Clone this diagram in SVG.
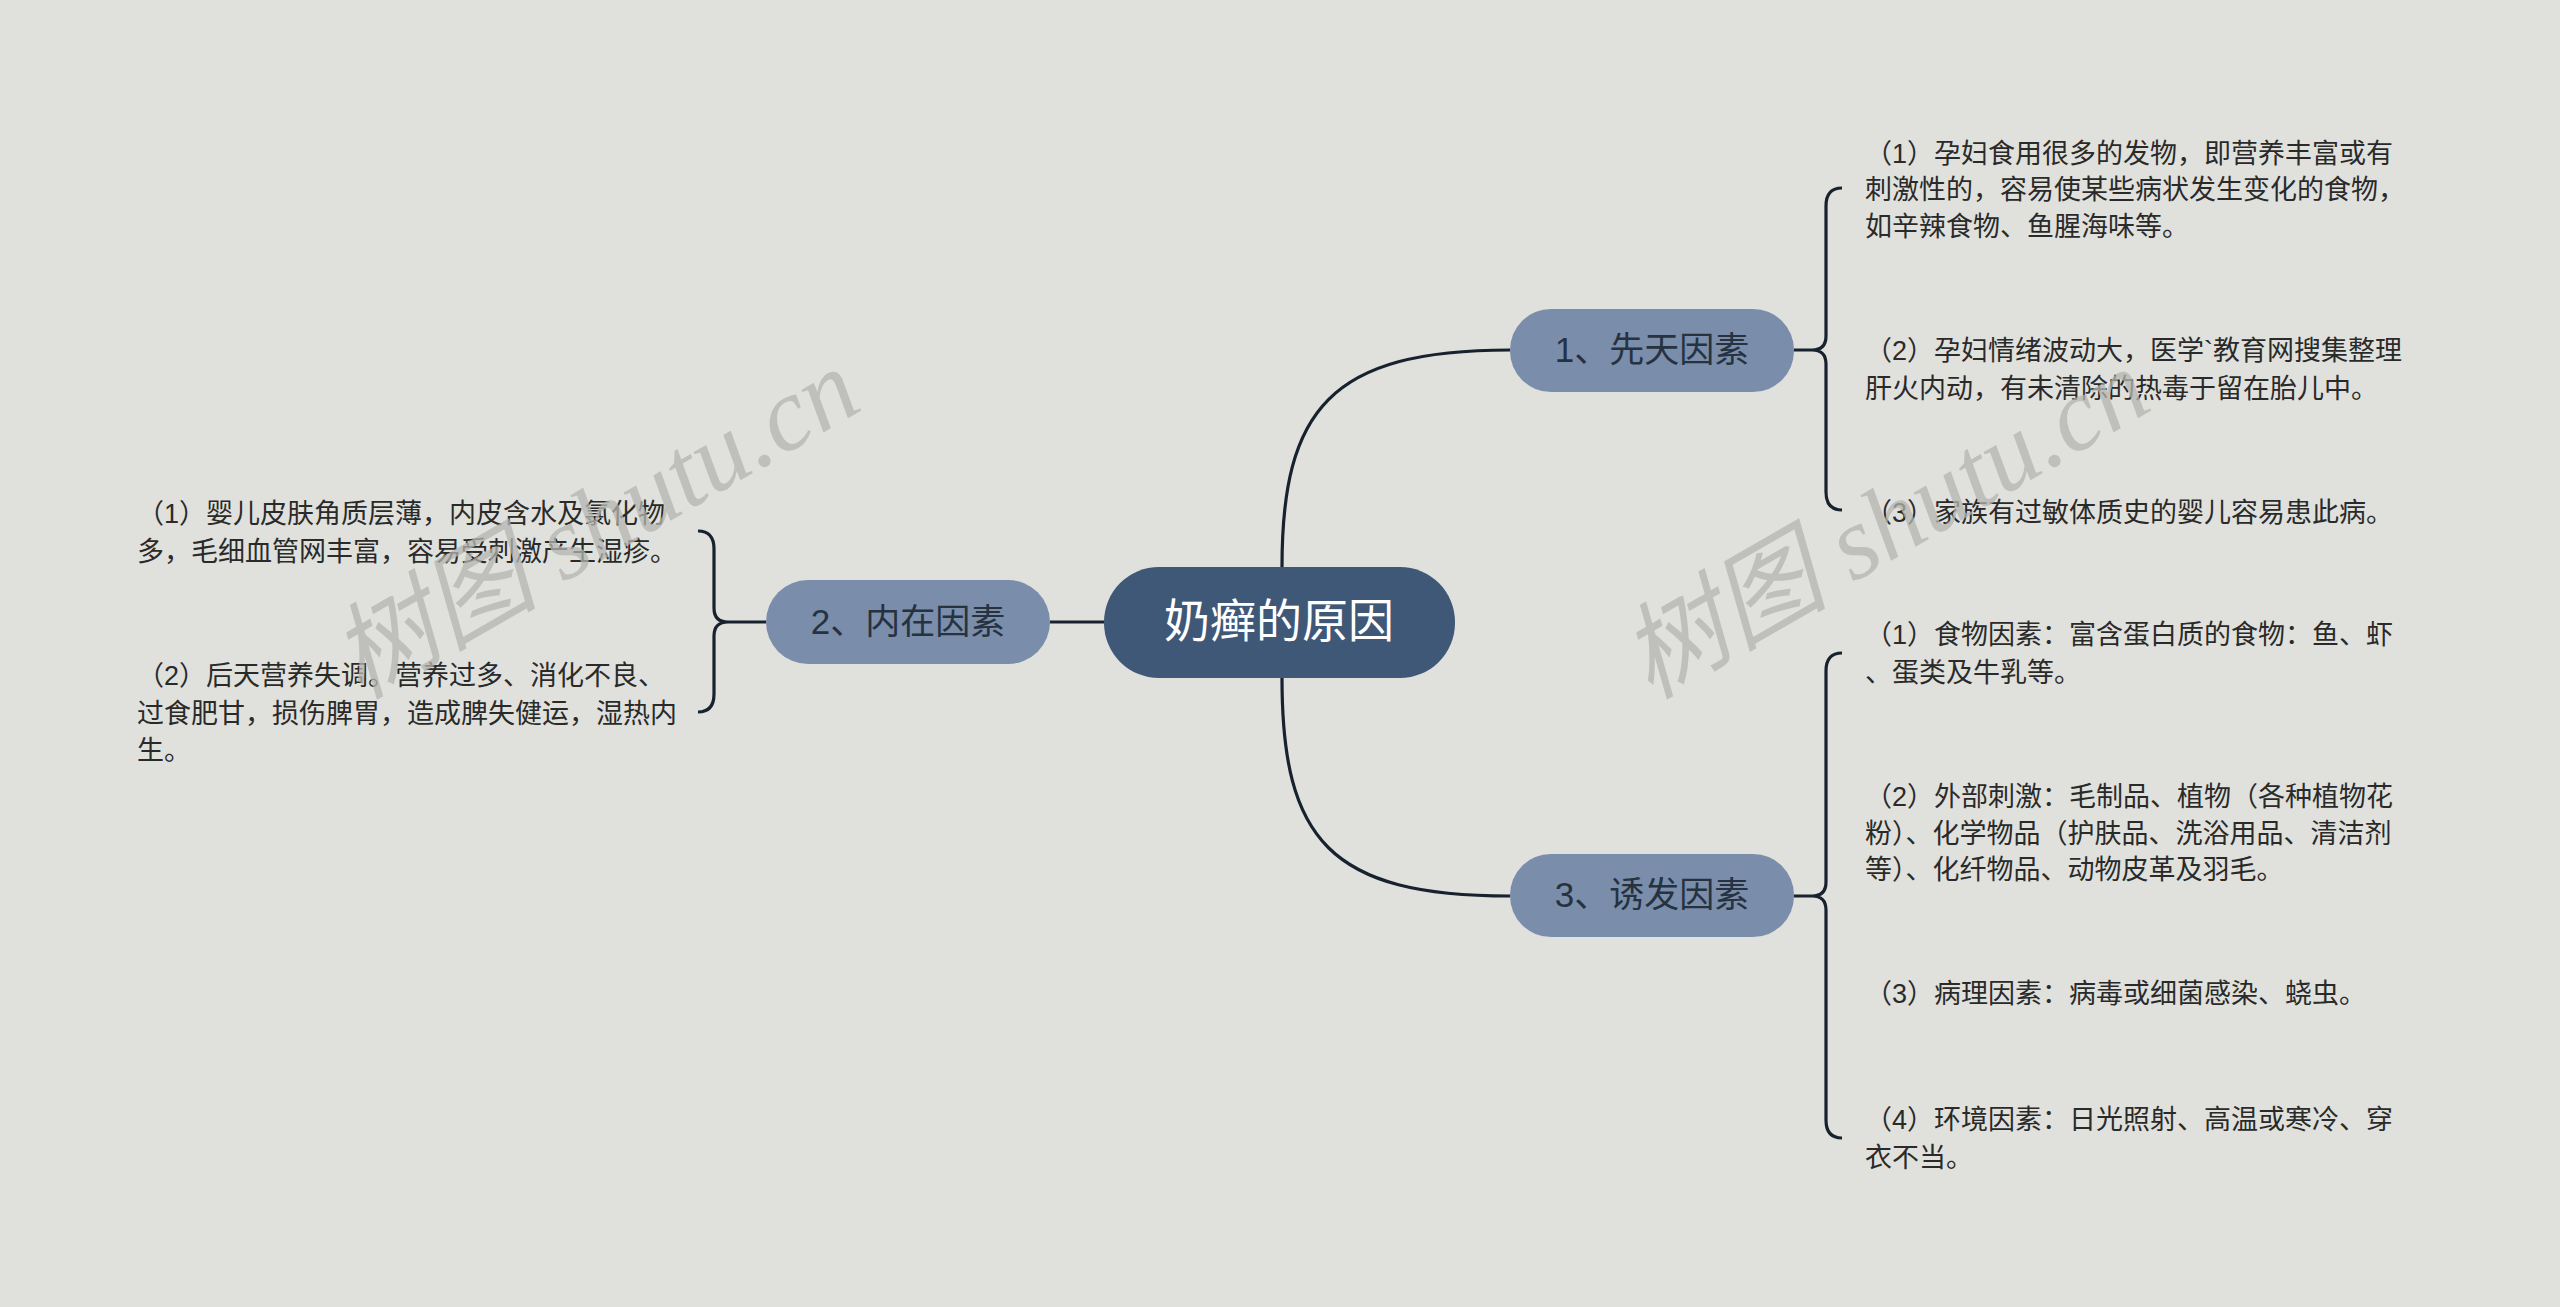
<svg xmlns="http://www.w3.org/2000/svg" width="2560" height="1307" viewBox="0 0 2560 1307">
<style>
.ln{fill:none;stroke:#18222f;stroke-width:3.2}
.sub{fill:#7a8dab}
.st{font-family:"Liberation Sans","Noto Sans CJK SC",sans-serif;font-size:35px;fill:#26323f;text-anchor:middle}
.lf{font-family:"Liberation Sans","Noto Sans CJK SC",sans-serif;font-size:27px;fill:#2a2a2a}
.wm{font-family:"Liberation Serif","Noto Sans CJK SC",serif;font-size:104px;fill:#b4b5b1;font-style:italic;opacity:0.75}
</style>
<rect width="2560" height="1307" fill="#e0e1dc"/>
<g id="connectors">
<path class="ln" d="M1282 567 C1282 410 1330 350 1510 350"/>
<path class="ln" d="M1282 678 C1282 840 1330 896 1510 896"/>
<path class="ln" d="M1050 622 L1104 622"/>
<path class="ln" d="M1794 350 L1812 350 Q1826 350 1826 336 L1826 206 Q1826 188 1842 188 M1812 350 Q1826 350 1826 364 L1826 492 Q1826 510 1842 510"/>
<path class="ln" d="M1794 896 L1812 896 Q1826 896 1826 882 L1826 671 Q1826 653 1842 653 M1812 896 Q1826 896 1826 910 L1826 1120 Q1826 1138 1842 1138"/>
<path class="ln" d="M766 622 L728 622 Q714 622 714 608 L714 549 Q714 531 698 531 M728 622 Q714 622 714 636 L714 694 Q714 712 698 712"/>
</g>
<g id="center"><rect x="1104" y="567" width="351" height="111" rx="55" fill="#3f5878"/><text x="1279" y="637" font-family="Liberation Sans,Noto Sans CJK SC,sans-serif" font-size="46" fill="#fff" text-anchor="middle">奶癣的原因</text></g>
<g id="n1"><rect class="sub" x="1510" y="309" width="284" height="83" rx="41"/><text class="st" x="1652" y="362">1、先天因素</text></g>
<g id="n2"><rect class="sub" x="766" y="580" width="284" height="84" rx="42"/><text class="st" x="908" y="634">2、内在因素</text></g>
<g id="n3"><rect class="sub" x="1510" y="854" width="284" height="83" rx="41"/><text class="st" x="1652" y="907">3、诱发因素</text></g>
<g id="l1a" class="lf"><text x="1865" y="163">（1）孕妇食用很多的发物，即营养丰富或有</text><text x="1865" y="199">刺激性的，容易使某些病状发生变化的食物，</text><text x="1865" y="236">如辛辣食物、鱼腥海味等。</text></g>
<g id="l1b" class="lf"><text x="1865" y="360">（2）孕妇情绪波动大，医学`教育网搜集整理</text><text x="1865" y="398">肝火内动，有未清除的热毒于留在胎儿中。</text></g>
<g id="l1c" class="lf"><text x="1865" y="522">（3）家族有过敏体质史的婴儿容易患此病。</text></g>
<g id="l3a" class="lf"><text x="1865" y="644">（1）食物因素：富含蛋白质的食物：鱼、虾</text><text x="1865" y="682">、蛋类及牛乳等。</text></g>
<g id="l3b" class="lf"><text x="1865" y="806">（2）外部刺激：毛制品、植物（各种植物花</text><text x="1865" y="843">粉）、化学物品（护肤品、洗浴用品、清洁剂</text><text x="1865" y="879">等）、化纤物品、动物皮革及羽毛。</text></g>
<g id="l3c" class="lf"><text x="1865" y="1003">（3）病理因素：病毒或细菌感染、蛲虫。</text></g>
<g id="l3d" class="lf"><text x="1865" y="1129">（4）环境因素：日光照射、高温或寒冷、穿</text><text x="1865" y="1167">衣不当。</text></g>
<g id="l2a" class="lf"><text x="137" y="523">（1）婴儿皮肤角质层薄，内皮含水及氯化物</text><text x="137" y="561">多，毛细血管网丰富，容易受刺激产生湿疹。</text></g>
<g id="l2b" class="lf"><text x="137" y="685">（2）后天营养失调。营养过多、消化不良、</text><text x="137" y="723">过食肥甘，损伤脾胃，造成脾失健运，湿热内</text><text x="137" y="760">生。</text></g>
<text class="wm" transform="translate(360 700) rotate(-30)">树图 shutu.cn</text>
<text class="wm" transform="translate(1650 700) rotate(-30)">树图 shutu.cn</text>
</svg>
